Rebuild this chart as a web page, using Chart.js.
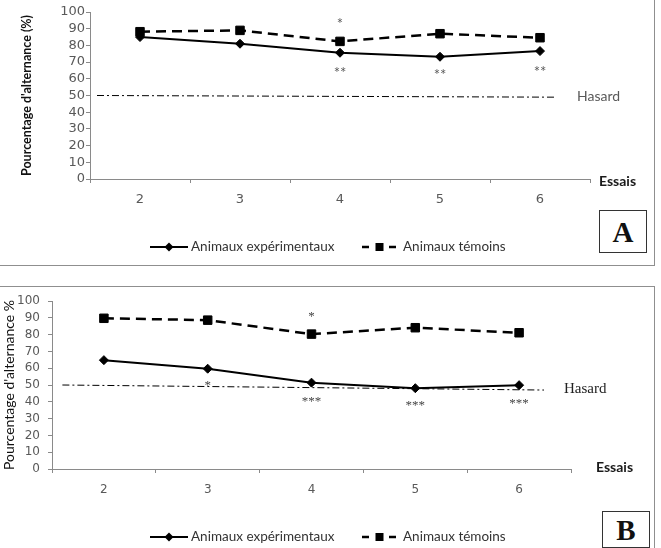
<!DOCTYPE html>
<html>
<head>
<meta charset="utf-8">
<script src="https://cdn.jsdelivr.net/npm/chart.js@4.4.1/dist/chart.umd.min.js"></script>
<style>
  body { margin: 0; background: #fff; width: 661px; height: 548px; overflow: hidden; position: relative; }
  .panel { position: absolute; left: -1px; border: 1px solid #8f8f8f; background: #fff; }
  #panelA { top: -1px; width: 654px; height: 265px; }
  #panelB { top: 286px; width: 654px; height: 270px; }
  canvas { position: absolute; left: 0; top: 0; }
  .tag { position: absolute; box-sizing: border-box; border: 1px solid #333; background: #fff;
         font: bold 29px "Liberation Serif", serif; color: #111; text-align: center; }
</style>
</head>
<body>
<div class="panel" id="panelA"><canvas id="chart-a" width="654" height="265"></canvas></div>
<div class="panel" id="panelB"><canvas id="chart-b" width="654" height="261"></canvas></div>
<div class="tag" style="left:599px;top:210px;width:48px;height:43px;line-height:42px;">A</div>
<div class="tag" style="left:602px;top:511px;width:48px;height:37px;line-height:36px;">B</div>
<script>
  const essais = ["2", "3", "4", "5", "6"];

  // Panel A
  const experimentauxA = [85, 81, 75.6, 73.2, 76.6];
  const temoinsA = [88.2, 89, 82.4, 87, 84.6];
  const hasardXA = [1.57, 6.15];
  const hasardYA = [50, 49];
  const etoilesTexteA = ["*", "**", "**", "**"];
  const etoilesEssaiA = ["4", "4", "5", "6"];
  const etoilesValeurA = [94.8, 65.3, 64.1, 65.9];

  // Panel B
  const experimentauxB = [64.8, 59.7, 51.4, 48.1, 49.9];
  const temoinsB = [89.7, 88.6, 80.3, 84.1, 81.1];
  const hasardXB = [1.6, 6.24];
  const hasardYB = [50, 47];
  const etoilesTexteB = ["*", "*", "***", "***", "***"];
  const etoilesEssaiB = ["4", "3", "4", "5", "6"];
  const etoilesValeurB = [92.5, 51.2, 41.6, 39.2, 40.6];

  const axisGrey = "#8a8a8a";
  const tickGrey = "#595959";

  Chart.defaults.font.family = "Lato, sans-serif";

  function decorPlugin(p) {
    return {
      id: "decor",
      afterDraw(chart) {
        const ctx = chart.ctx;
        const x = chart.scales.x;
        const xh = chart.scales.xh;
        const y = chart.scales.y;
        const area = chart.chartArea;
        ctx.save();

        // significance stars
        ctx.fillStyle = p.starColor;
        ctx.font = p.starFont;
        ctx.textAlign = "center";
        ctx.textBaseline = "alphabetic";
        p.starText.forEach(function (txt, i) {
          const px = x.getPixelForValue(essais.indexOf(p.starEssai[i]));
          const py = y.getPixelForValue(p.starValue[i]);
          ctx.fillText(txt, px, py + p.starShift);
        });

        // Hasard label, after the end of the chance line
        const last = p.hasardX.length - 1;
        ctx.fillStyle = p.hasardColor;
        ctx.font = p.hasardFont;
        ctx.textAlign = "left";
        ctx.textBaseline = "middle";
        ctx.fillText("Hasard", xh.getPixelForValue(p.hasardX[last]) + p.hasardGap,
          y.getPixelForValue(p.hasardY[last]) - 1);

        // Essais label
        ctx.fillStyle = "#1a1a1a";
        ctx.font = "bold 14px Lato, sans-serif";
        ctx.fillText("Essais", area.right + p.essaisDx, area.bottom + p.essaisDy);

        // legend
        const ly = p.legendY;
        ctx.strokeStyle = "#000";
        ctx.fillStyle = "#000";
        ctx.lineWidth = 2;
        ctx.beginPath();
        ctx.moveTo(150, ly);
        ctx.lineTo(188, ly);
        ctx.stroke();
        ctx.beginPath();
        ctx.moveTo(169, ly - 4.5);
        ctx.lineTo(173.5, ly);
        ctx.lineTo(169, ly + 4.5);
        ctx.lineTo(164.5, ly);
        ctx.closePath();
        ctx.fill();

        ctx.lineWidth = 2.5;
        ctx.beginPath();
        ctx.moveTo(362, ly);
        ctx.lineTo(369, ly);
        ctx.moveTo(389, ly);
        ctx.lineTo(396, ly);
        ctx.stroke();
        ctx.fillRect(375.5, ly - 4, 8, 8);

        ctx.fillStyle = "#333";
        ctx.font = "13.5px Lato, sans-serif";
        ctx.textBaseline = "middle";
        ctx.fillText("Animaux expérimentaux", 191, ly);
        ctx.fillText("Animaux témoins", 403, ly);
        ctx.restore();
      }
    };
  }

  function panelChart(canvasId, p) {
    const canvas = document.getElementById(canvasId);
    return new Chart(canvas, {
      type: "line",
      data: {
        labels: essais,
        datasets: [
          {
            label: "Animaux expérimentaux",
            data: p.experimentaux,
            borderColor: "#000",
            backgroundColor: "#000",
            borderWidth: 2,
            pointStyle: "rectRot",
            pointRadius: 4.5,
            pointBorderWidth: 1,
            tension: 0,
          },
          {
            label: "Animaux témoins",
            data: p.temoins,
            borderColor: "#000",
            backgroundColor: "#000",
            borderWidth: 2.5,
            borderDash: [10, 6],
            pointStyle: "rect",
            pointRadius: 6,
            pointBorderWidth: 1,
            tension: 0,
          },
          {
            label: "Hasard",
            data: p.hasardX.map(function (hx, i) { return { x: hx, y: p.hasardY[i] }; }),
            xAxisID: "xh",
            borderColor: "#000",
            borderWidth: 1,
            borderDash: [7, 3, 2, 3],
            pointRadius: 0,
            tension: 0,
          },
        ],
      },
      options: {
        responsive: false,
        animation: false,
        events: [],
        layout: { padding: p.padding },
        plugins: {
          legend: { display: false },
          tooltip: { enabled: false },
        },
        scales: {
          x: {
            type: "category",
            offset: true,
            grid: { offset: true, drawOnChartArea: false, tickLength: 4, color: axisGrey },
            border: { color: axisGrey },
            ticks: { color: tickGrey, font: p.tickFont, padding: p.xTickPadding, maxRotation: 0 },
            afterFit: function (scale) { scale.height = 40; },
          },
          xh: { type: "linear", display: false, min: 1.5, max: 6.5 },
          y: {
            min: 0,
            max: 100,
            ticks: { stepSize: 10, autoSkip: false, color: tickGrey, font: p.tickFont, padding: p.yTickPadding },
            grid: { drawOnChartArea: false, tickLength: 4, color: axisGrey },
            border: { color: axisGrey },
            title: {
              display: true,
              text: p.yTitle,
              color: "#111",
              font: p.titleFont,
              padding: { top: p.titlePad, bottom: 0 },
            },
            afterFit: function (scale) { scale.width = p.axisLeft; },
          },
        },
      },
      plugins: [decorPlugin(p)],
    });
  }

  panelChart("chart-a", {
    experimentaux: experimentauxA,
    temoins: temoinsA,
    hasardX: hasardXA,
    hasardY: hasardYA,
    starText: etoilesTexteA,
    starEssai: etoilesEssaiA,
    starValue: etoilesValeurA,
    starFont: "15px Lato, sans-serif",
    starColor: "#595959",
    starShift: 8,
    hasardFont: "14px Lato, sans-serif",
    hasardColor: "#595959",
    hasardGap: 22,
    essaisDx: 9,
    essaisDy: 2,
    legendY: 247,
    padding: { left: 0, top: 12, right: 64, bottom: 46 },
    axisLeft: 90,
    tickFont: { family: "DejaVu Sans", size: 13, lineHeight: 1 },
    xTickPadding: 10,
    yTickPadding: 1,
    yTitle: "Pourcentage d'alternance (%)",
    titleFont: { family: "Lato", size: 12.5, weight: "bold" },
    titlePad: 19,
  });

  panelChart("chart-b", {
    experimentaux: experimentauxB,
    temoins: temoinsB,
    hasardX: hasardXB,
    hasardY: hasardYB,
    starText: etoilesTexteB,
    starEssai: etoilesEssaiB,
    starValue: etoilesValeurB,
    starFont: "13px 'Liberation Serif', serif",
    starColor: "#444",
    starShift: 6,
    hasardFont: "15px 'Liberation Serif', serif",
    hasardColor: "#222",
    hasardGap: 20,
    essaisDx: 25,
    essaisDy: -2,
    legendY: 250,
    padding: { left: 0, top: 12, right: 83, bottom: 39 },
    axisLeft: 52,
    tickFont: { family: "DejaVu Sans", size: 12, lineHeight: 1 },
    xTickPadding: 11,
    yTickPadding: 8,
    yTitle: "Pourcentage d'alternance %",
    titleFont: { family: "Lato", size: 14 },
    titlePad: 1,
  });
</script>
</body>
</html>
